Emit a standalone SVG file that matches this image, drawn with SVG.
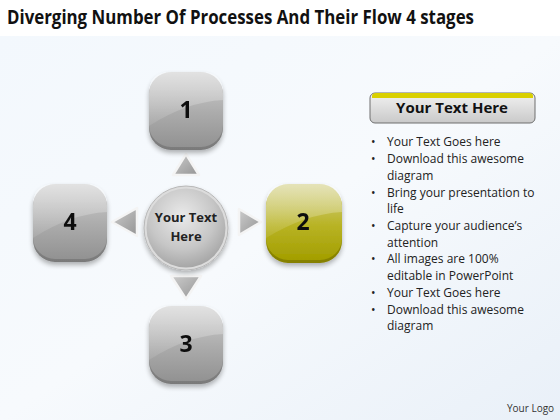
<svg xmlns="http://www.w3.org/2000/svg" width="560" height="420" viewBox="0 0 560 420">
<defs>
<linearGradient id="bg" x1="0" y1="0" x2="1" y2="1">
<stop offset="0" stop-color="#f3f8fd"/>
<stop offset="0.5" stop-color="#f7fafd"/>
<stop offset="1" stop-color="#e9f0f8"/>
</linearGradient>
<linearGradient id="gray" x1="0" y1="0" x2="0" y2="1">
<stop offset="0" stop-color="#cfcfcf"/>
<stop offset="0.55" stop-color="#ababab"/>
<stop offset="1" stop-color="#929292"/>
</linearGradient>
<linearGradient id="grayEdge" x1="0" y1="0" x2="0" y2="1">
<stop offset="0" stop-color="#a0a0a0"/>
<stop offset="1" stop-color="#7a7a7a"/>
</linearGradient>
<linearGradient id="olive" x1="0" y1="0" x2="0" y2="1">
<stop offset="0" stop-color="#d4d18a"/>
<stop offset="0.55" stop-color="#b8b324"/>
<stop offset="1" stop-color="#a39e00"/>
</linearGradient>
<linearGradient id="oliveEdge" x1="0" y1="0" x2="0" y2="1">
<stop offset="0" stop-color="#a6a100"/>
<stop offset="1" stop-color="#858000"/>
</linearGradient>
<linearGradient id="shine" x1="0" y1="0" x2="0" y2="1">
<stop offset="0" stop-color="#ffffff" stop-opacity="0.4"/>
<stop offset="1" stop-color="#ffffff" stop-opacity="0.08"/>
</linearGradient>
<radialGradient id="circ" cx="0.45" cy="0.35" r="0.7">
<stop offset="0" stop-color="#eaeaea"/>
<stop offset="0.6" stop-color="#c6c6c6"/>
<stop offset="1" stop-color="#a0a0a0"/>
</radialGradient>
<linearGradient id="tri" x1="0" y1="0" x2="1" y2="1">
<stop offset="0" stop-color="#cccccc"/>
<stop offset="1" stop-color="#949494"/>
</linearGradient>
<linearGradient id="hdr" x1="0" y1="0" x2="0" y2="1">
<stop offset="0" stop-color="#f2f2f2"/>
<stop offset="1" stop-color="#c9c9c9"/>
</linearGradient>
<filter id="sh" x="-20%" y="-20%" width="140%" height="150%">
<feGaussianBlur in="SourceAlpha" stdDeviation="2.5"/>
<feOffset dx="0" dy="3" result="b"/>
<feComponentTransfer><feFuncA type="linear" slope="0.3"/></feComponentTransfer>
<feMerge><feMergeNode/><feMergeNode in="SourceGraphic"/></feMerge>
</filter>
<g id="graySq">
<rect x="-37" y="-37" width="74" height="77" rx="22" fill="url(#grayEdge)"/>
<rect x="-37" y="-38" width="74" height="75" rx="22" fill="url(#gray)"/>
<path d="M-37 -16 Q-37 -38 -15 -38 L15 -38 Q37 -38 37 -16 L37 -10 Q0 -8 -37 16 Z" fill="url(#shine)"/>
</g>
</defs>
<style>
.title{font-family:"Open Sans","Liberation Sans",sans-serif;font-weight:bold;font-size:19px;fill:#111}
.num{font-family:"Open Sans","Liberation Sans",sans-serif;font-weight:bold;font-size:23px;fill:#111;text-anchor:middle}
.ctr{font-family:"Open Sans","Liberation Sans",sans-serif;font-weight:bold;font-size:13px;fill:#222;text-anchor:middle}
.hdrt{font-family:"Open Sans","Liberation Sans",sans-serif;font-weight:bold;font-size:15px;fill:#111;text-anchor:middle}
.bl{font-family:"Open Sans","Liberation Sans",sans-serif;font-size:12px;fill:#222}
.logo{font-family:"Open Sans","Liberation Sans",sans-serif;font-size:10px;fill:#333}
.arr{fill:url(#tri);stroke:#f4f4f4;stroke-width:2.5;stroke-linejoin:round}
</style>
<rect x="0" y="0" width="560" height="420" fill="#ffffff"/>
<rect x="0" y="36" width="560" height="384" fill="url(#bg)"/>
<text class="title" x="7" y="24" textLength="467" lengthAdjust="spacingAndGlyphs">Diverging Number Of Processes And Their Flow 4 stages</text>

<g id="connectors">
<polygon class="arr" points="186,154 199,175 173,175"/>
<polygon class="arr" points="261,222 239,209 239,235"/>
<polygon class="arr" points="186,299 171,276 201,276"/>
<polygon class="arr" points="112,222 137,208 137,236"/>
</g>

<g id="center">
<circle cx="186" cy="228" r="42" fill="#dcdcdc" stroke="#b8b8b8" stroke-width="1" filter="url(#sh)"/>
<circle cx="186" cy="228" r="39.5" fill="url(#circ)"/>
<text class="ctr" x="186" y="222">Your Text</text>
<text class="ctr" x="186" y="241">Here</text>
</g>

<g id="node1" filter="url(#sh)">
<use href="#graySq" x="186" y="110"/>
<text class="num" x="186" y="118">1</text>
</g>

<g id="node2" filter="url(#sh)">
<rect x="266" y="185" width="76" height="78" rx="22" fill="url(#oliveEdge)"/>
<rect x="266" y="184" width="76" height="76" rx="22" fill="url(#olive)"/>
<path d="M266 206 Q266 184 288 184 L320 184 Q342 184 342 206 L342 212 Q305 214 266 238 Z" fill="url(#shine)"/>
<text class="num" x="303" y="230">2</text>
</g>

<g id="node3" filter="url(#sh)">
<use href="#graySq" x="186" y="344"/>
<text class="num" x="186" y="352">3</text>
</g>

<g id="node4" filter="url(#sh)">
<use href="#graySq" x="70" y="222"/>
<text class="num" x="70" y="230">4</text>
</g>

<g id="panel">
<rect x="370" y="93" width="165" height="30" rx="5" fill="url(#hdr)" stroke="#6e6e6e" stroke-width="1"/>
<path d="M372 96 Q372 93 376 93 L529 93 Q533 93 533 96 L533 98 L372 98 Z" fill="#d9d000"/>
<text class="hdrt" x="452" y="113">Your Text Here</text>
<g class="bl">
<text x="371" y="146">•</text><text x="387" y="146">Your Text Goes here</text>
<text x="371" y="163">•</text><text x="387" y="163">Download this awesome</text>
<text x="387" y="180">diagram</text>
<text x="371" y="197">•</text><text x="387" y="197">Bring your presentation to</text>
<text x="387" y="213">life</text>
<text x="371" y="230">•</text><text x="387" y="230">Capture your audience’s</text>
<text x="387" y="247">attention</text>
<text x="371" y="263">•</text><text x="387" y="263">All images are 100%</text>
<text x="387" y="280">editable in PowerPoint</text>
<text x="371" y="297">•</text><text x="387" y="297">Your Text Goes here</text>
<text x="371" y="314">•</text><text x="387" y="314">Download this awesome</text>
<text x="387" y="330">diagram</text>
</g>
<text class="logo" x="507" y="412">Your Logo</text>
</g>
</svg>
